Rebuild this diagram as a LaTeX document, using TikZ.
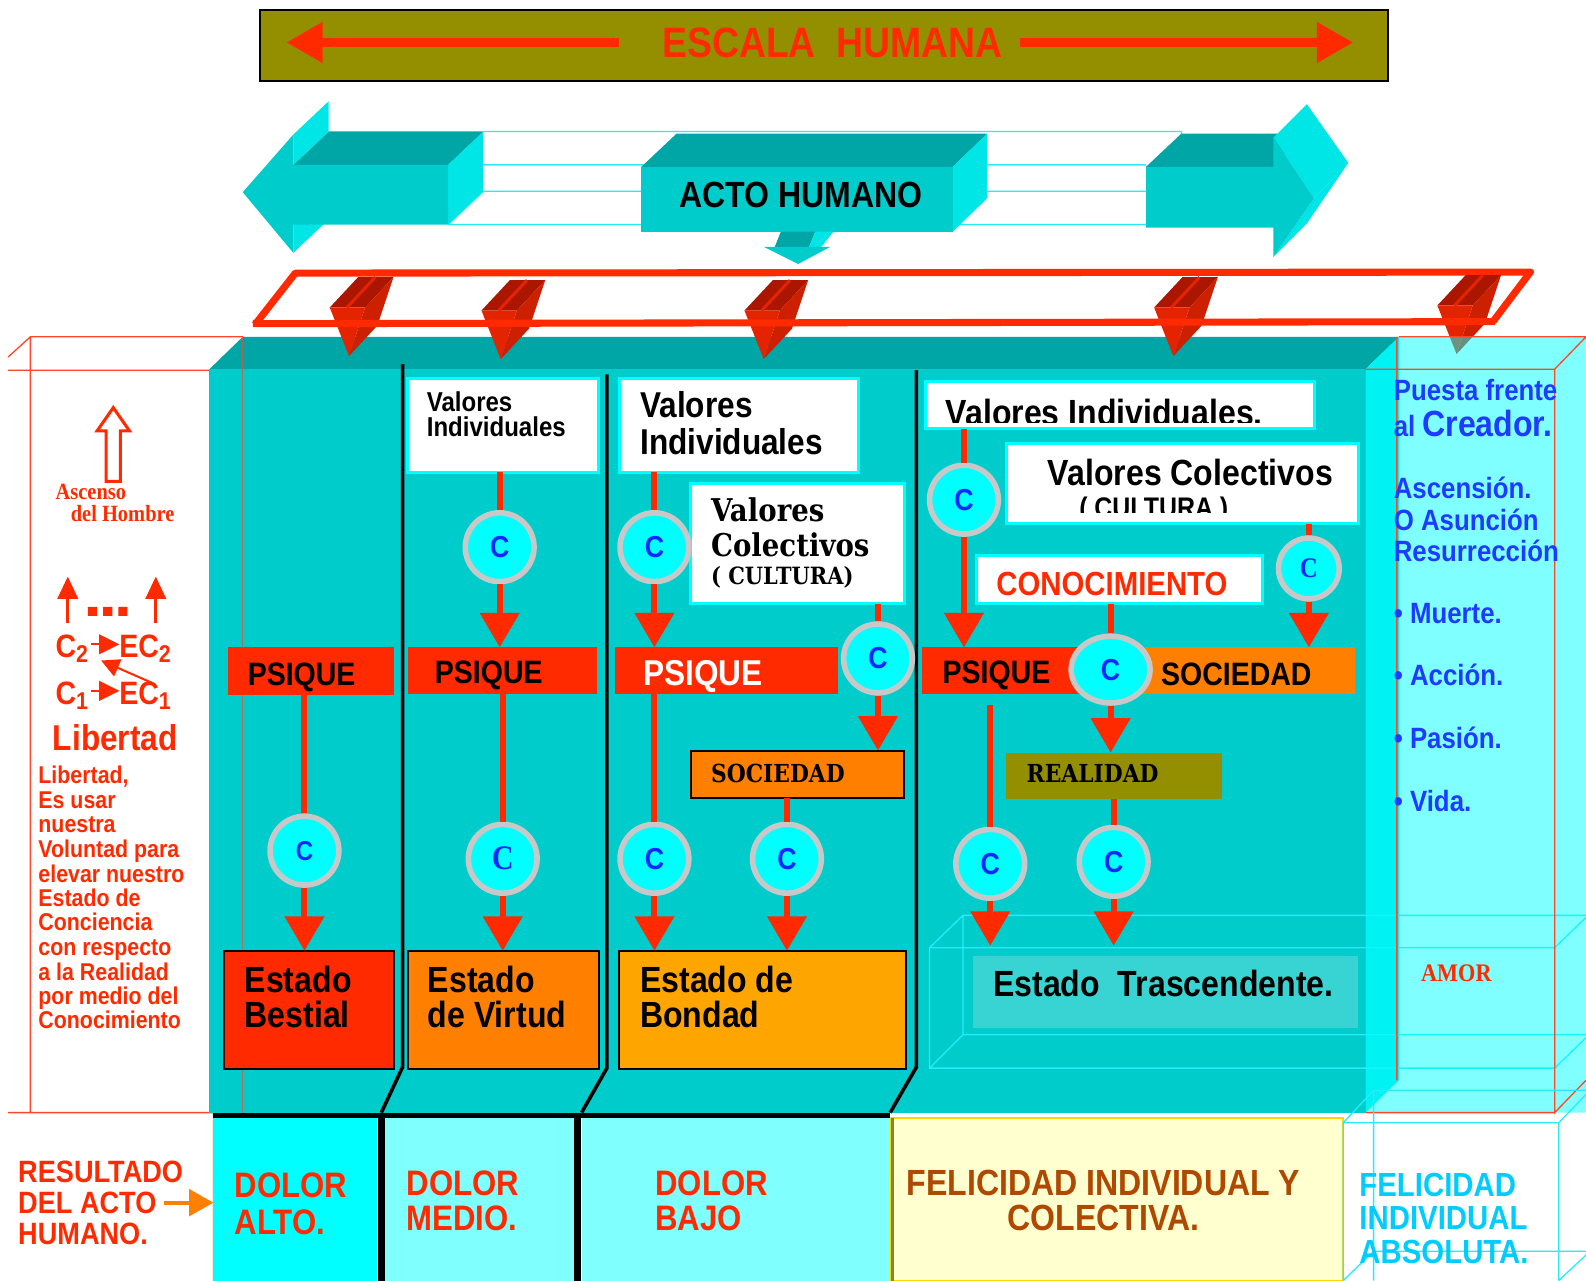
\documentclass[tikz,border=0pt]{standalone}
\usepackage{fontspec}
\setmainfont{Liberation Sans}[FakeStretch=0.88]
\newfontfamily\dvs{DejaVu Serif}[FakeStretch=0.88]
\newfontfamily\tms{Liberation Serif}[FakeStretch=0.88]
\usetikzlibrary{arrows.meta,shapes.geometric}
\newcommand\fsz[1]{\fontsize{#1}{#1}\selectfont}
\definecolor{tealf}{RGB}{0,204,204}
\definecolor{tealdk}{RGB}{0,165,165}
\definecolor{tealbr}{RGB}{0,229,229}
\definecolor{cyanf}{RGB}{0,255,255}
\definecolor{cyanlt}{RGB}{128,255,255}
\definecolor{redc}{RGB}{255,42,0}
\definecolor{orangec}{RGB}{255,127,0}
\definecolor{goldc}{RGB}{255,165,0}
\definecolor{olivec}{RGB}{148,143,0}
\definecolor{cblue}{RGB}{15,40,255}
\definecolor{pblue}{RGB}{30,60,255}
\definecolor{ringg}{RGB}{200,200,200}
\definecolor{brownc}{RGB}{176,72,0}
\definecolor{felyel}{RGB}{255,255,208}
\definecolor{felbd}{RGB}{255,215,0}
\definecolor{felcy}{RGB}{0,204,255}
\definecolor{wirec}{RGB}{40,235,250}
\definecolor{redw}{RGB}{255,70,40}
\definecolor{trascf}{RGB}{56,212,212}
\definecolor{ardk}{RGB}{170,22,0}
\definecolor{armd}{RGB}{205,32,0}
\definecolor{arft}{RGB}{228,36,0}
\definecolor{arrorange}{RGB}{255,128,0}
\definecolor{olivedk}{RGB}{128,128,64}
\tikzset{
 bx/.style={rectangle, anchor=north west, inner sep=0pt, outer sep=0pt},
 wbox/.style={bx, fill=white, draw=cyanf, line width=3pt},
 ln/.style={draw=redc, line width=6pt},
 arr/.style={draw=redc, line width=6pt, -{Triangle[width=38pt,length=34pt]}},
 cc/.style={circle, draw=ringg, line width=5.5pt, fill=cyanf, minimum size=68pt, inner sep=0pt, text=cblue, font=\fsz{30}\bfseries},
 ccs/.style={cc, font=\tms\fsz{34}\bfseries},
 tx/.style={anchor=base west, inner sep=0pt, outer sep=0pt},
 txc/.style={anchor=base, inner sep=0pt, outer sep=0pt},
 wire/.style={draw=wirec, line width=1.3pt},
 rwire/.style={draw=redw, line width=1.3pt},
 bigt/.style={font=\fsz{36}\bfseries},
 dolt/.style={text=redc, font=\fsz{35}\bfseries},
 psq/.style={font=\fsz{32}\bfseries},
 ptxt/.style={text=pblue, font=\fsz{29}\bfseries},
 ltxt/.style={text=redc, font=\fsz{24}\bfseries},
 ftxt/.style={text=redc, font=\fsz{32}\bfseries},
}
\newcommand\bxx[6]{\node[bx,#6,minimum width=#4-#2,minimum height=#5-#3] (#1) at (#2,#3) {};}
\newcommand\txtat[5]{\node[tx,#4] (#1) at (#2,#3) {#5};}
\newcommand\subn[1]{{\fsz{24}\raisebox{-5pt}{#1}}}
\newcommand\redarr[2]{%
 \fill[ardk] (#1-19,#2-48)--(#1+16,#2-48)--(#1+44,#2-78)--(#1+9,#2-78)--cycle;
 \fill[armd] (#1+16,#2-48)--(#1,#2)--(#1+28,#2-30)--(#1+44,#2-78)--cycle;
 \fill[arft] (#1-19,#2-48)--(#1+16,#2-48)--(#1,#2)--cycle;
 \draw[arft,line width=3pt] (#1-2,#2-48)--(#1+26,#2-78);
}
\begin{document}
\begin{tikzpicture}[x=1pt,y=-1pt]
\useasboundingbox (0,0) rectangle (1568,1266);
% ---------- banner
\bxx{banner}{257}{10}{1372}{80}{fill=olivec,draw=black,line width=2pt}
\node[txc,text=redc,font=\fsz{42}\bfseries] (escala) at (823,57) {ESCALA\ \ HUMANA};
\coordinate (bl1) at (612,42); \coordinate (bl2) at (283,42);
\coordinate (br1) at (1008,42); \coordinate (br2) at (1338,42);
\draw[redc,line width=9pt,-{Triangle[width=38pt,length=36pt]}] (bl1) -- (bl2);
\draw[redc,line width=9pt,-{Triangle[width=38pt,length=36pt]}] (br1) -- (br2);
% ---------- ACTO HUMANO double arrow
\draw[wire] (443,163)--(1133,163) (443,222)--(1133,222) (478,130)--(1168,130) (478,189)--(1168,189) (1168,130)--(1168,189) (1133,222)--(1168,189) (443,222)--(478,189);
\fill[tealdk] (290,163)--(443,163)--(478,130)--(325,130)--cycle;
\fill[tealbr] (443,163)--(478,130)--(478,189)--(443,222)--cycle;
\fill[tealbr] (290,133)--(325,100)--(325,130)--(290,163)--cycle;
\fill[tealbr] (290,222)--(325,189)--(325,217)--(290,250)--cycle;
\fill[tealf] (240,190)--(290,133)--(290,163)--(443,163)--(443,222)--(290,222)--(290,250)--cycle;
\fill[tealdk] (1133,165)--(1259,165)--(1292,132)--(1168,132)--cycle;
\fill[tealbr] (1259,136)--(1299,196)--(1333,161)--(1292,103)--cycle;
\fill[tealbr] (1299,196)--(1259,254)--(1292,221)--(1333,161)--cycle;
\fill[tealf] (1133,165)--(1259,165)--(1259,136)--(1299,196)--(1259,254)--(1259,225)--(1133,225)--cycle;
\fill[tealdk] (634,165)--(669,132)--(976,132)--(942,165)--cycle;
\fill[tealbr] (942,165)--(976,132)--(976,196)--(942,229)--cycle;
\bxx{acto}{634}{165}{942}{229}{fill=tealf}
\node[txc,font=\fsz{36}\bfseries] (actot) at (792,205) {ACTO HUMANO};
\fill[tealdk] (772,229)--(806,229)--(800,244)--(766,244)--cycle;
\fill[tealbr] (806,229)--(824,229)--(812,244)--(800,244)--cycle;
\fill[tealf] (755,244)--(821,244)--(789,261)--cycle;
% ---------- left panel wire
\draw[rwire] (8,353)--(30,333)--(240,333) (8,366)--(207,366) (30,333)--(30,1100) (8,1100)--(211,1100)--(211,1266);
% ---------- teal block
\fill[tealdk] (207,365)--(240,333)--(1383,333)--(1350,365)--cycle;
\fill[tealbr] (1350,365)--(1383,333)--(1383,1068)--(1350,1100)--cycle;
\bxx{block}{207}{365}{1350}{1100}{fill=tealf}
\draw[redw,line width=1pt,opacity=.7] (240,333)--(240,1100);
% trascendente wire box
\draw[wire] (919,937) rectangle (1537,1056) (952,905)--(1568,905) (952,905)--(952,1023)--(1568,1023) (919,937)--(952,905) (919,1056)--(952,1023) (1537,937)--(1568,907) (1537,1056)--(1568,1026);
% ---------- red frame and arrows
\draw[redc,line width=7pt,line join=round] (252,321)--(292,270)--(1513,269)--(1476,318);
\redarr{345}{352}
\redarr{495}{355}
\redarr{755}{355}
\redarr{1160}{352}
\redarr{1440}{350}
\draw[redc,line width=7pt] (250,320)--(1478,318);
% ---------- dividers
\draw[line width=3.5pt] (398,360)--(398,1055)--(377,1100);
\draw[line width=3.5pt] (600,370)--(600,1056)--(575,1100);
\draw[line width=3.5pt] (906,366)--(906,1055)--(880,1100);
% ---------- column 1
\bxx{psique1}{225}{640}{390}{687}{fill=redc}
\txtat{tp1}{245}{678}{psq}{PSIQUE}
\bxx{bestial}{221}{940}{390}{1057}{fill=redc,draw=black,line width=2pt}
\txtat{tb1}{242}{981}{bigt}{Estado}
\txtat{tb2}{242}{1016}{bigt}{Bestial}
\node[cc,font=\fsz{27}\bfseries] (c1) at (301,841) {C};
\draw[ln] (psique1.south -| c1) -- (c1);
\draw[arr] (c1) -- (c1 |- bestial.north);
% ---------- column 2
\bxx{vi2}{403}{374}{592}{467}{wbox}
\txtat{tv2a}{422}{407}{font=\fsz{27}\bfseries}{Valores}
\txtat{tv2b}{422}{432}{font=\fsz{27}\bfseries}{Individuales}
\node[cc] (c2a) at (494,541) {C};
\bxx{psique2}{403}{640}{590}{686}{fill=redc}
\txtat{tp2}{430}{676}{psq}{PSIQUE}
\node[ccs] (c2b) at (497,849) {C};
\bxx{virtud}{403}{940}{592}{1057}{fill=orangec,draw=black,line width=2pt}
\txtat{tvi1}{423}{981}{bigt}{Estado}
\txtat{tvi2}{423}{1016}{bigt}{de Virtud}
\draw[ln] (vi2.south -| c2a) -- (c2a);
\draw[arr] (c2a) -- (c2a |- psique2.north);
\draw[ln] (psique2.south -| c2b) -- (c2b);
\draw[arr] (c2b) -- (c2b |- virtud.north);
% ---------- column 3
\bxx{vi3}{612}{374}{849}{467}{wbox}
\txtat{tv3a}{633}{413}{font=\fsz{35.5}\bfseries}{Valores}
\txtat{tv3b}{633}{449}{font=\fsz{35.5}\bfseries}{Individuales}
\bxx{vc3}{683}{478}{894}{597}{wbox}
\txtat{tc3a}{703}{516}{font=\dvs\fsz{31}\bfseries}{Valores}
\txtat{tc3b}{703}{550}{font=\dvs\fsz{31}\bfseries}{Colectivos}
\txtat{tc3c}{703}{578}{font=\dvs\fsz{23.5}\bfseries}{( CULTURA)}
\node[cc] (c3a) at (647,541) {C};
\bxx{psique3}{608}{640}{828}{686}{fill=redc}
\txtat{tp3}{636}{678}{font=\fsz{35.5}\bfseries,text=white}{PSIQUE}
\node[cc] (c3b) at (868,651) {C};
\bxx{soc3}{683}{742}{894}{789}{fill=orangec,draw=black,line width=2pt}
\txtat{ts3}{703}{774}{font=\dvs\fsz{24.5}\bfseries}{SOCIEDAD}
\node[cc] (c3c) at (647,849) {C};
\node[cc] (c3d) at (778,849) {C};
\bxx{bondad}{612}{940}{896}{1057}{fill=goldc,draw=black,line width=2pt}
\txtat{tbo1}{633}{981}{bigt}{Estado de}
\txtat{tbo2}{633}{1016}{bigt}{Bondad}
\draw[ln] (vi3.south -| c3a) -- (c3a);
\draw[arr] (c3a) -- (c3a |- psique3.north);
\draw[ln] (vc3.south -| c3b) -- (c3b);
\draw[arr] (c3b) -- (c3b |- soc3.north);
\draw[ln] (psique3.south -| c3c) -- (c3c);
\draw[arr] (c3c) -- (c3c |- bondad.north);
\draw[ln] (soc3.south -| c3d) -- (c3d);
\draw[arr] (c3d) -- (c3d |- bondad.north);
% ---------- column 4
\bxx{vi4}{915}{377}{1300}{424}{wbox}
\begin{scope}
\clip (917,379) rectangle (1298,418);
\txtat{tv4}{935}{421}{bigt}{Valores Individuales.}
\end{scope}
\bxx{vc4}{995}{438}{1343}{518}{wbox}
\txtat{tc4a}{1036}{480}{bigt}{Valores Colectivos}
\begin{scope}
\clip (997,440) rectangle (1341,507);
\txtat{tc4b}{1067}{512}{font=\fsz{28}\bfseries}{( CULTURA )}
\end{scope}
\bxx{conoc}{965}{549}{1248}{597}{wbox}
\txtat{tk}{985}{589}{text=redc,font=\fsz{33}\bfseries}{CONOCIMIENTO}
\node[cc] (c4a) at (953,494) {C};
\node[ccs,minimum size=60pt,font=\tms\fsz{28}\bfseries] (c4b) at (1294,562) {C};
\bxx{psique4}{912}{640}{1100}{686}{fill=redc}
\bxx{soc4}{1100}{640}{1340}{686}{fill=orangec}
\txtat{tp4}{932}{676}{psq}{PSIQUE}
\txtat{ts4}{1148}{678}{psq}{SOCIEDAD}
\node[cc,ellipse,minimum width=78pt,minimum height=66pt] (c4c) at (1098,662) {C};
\bxx{real}{995}{744}{1208}{790}{fill=olivec}
\txtat{tr}{1015}{774}{font=\dvs\fsz{24.5}\bfseries}{REALIDAD}
\node[cc] (c4d) at (979,854) {C};
\node[cc] (c4e) at (1101,852) {C};
\bxx{trasc}{962}{945}{1343}{1016}{fill=trascf}
\txtat{tt}{982}{985}{font=\fsz{36}\bfseries}{Estado\ \ Trascendente.}
\draw[ln] (vi4.south -| c4a) -- (c4a);
\draw[arr] (c4a) -- (c4a |- psique4.north);
\draw[ln] (vc4.south -| c4b) -- (c4b);
\draw[arr] (c4b) -- (c4b |- soc4.north);
\draw[ln] (conoc.south -| c4c) -- (c4c);
\draw[arr] (c4c) -- (c4c |- real.north);
\draw[ln] ([yshift=-11pt]psique4.south -| c4d) -- (c4d);
\draw[arr,shorten >=10pt] (c4d) -- (c4d |- trasc.north);
\draw[ln] (real.south -| c4e) -- (c4e);
\draw[arr,shorten >=10pt] (c4e) -- (c4e |- trasc.north);
% ---------- right panel
\fill[cyanf,opacity=.5] (1350,365)--(1383,333)--(1568,333)--(1568,1100)--(1350,1100)--cycle;
\draw[rwire] (1383,333)--(1568,333) (1350,365)--(1537,365)--(1568,333) (1537,365)--(1537,1100)--(1568,1068) (1350,1100)--(1537,1100) (1381,333)--(1381,1068);
\txtat{rp1}{1378}{396}{ptxt}{Puesta frente}
\txtat{rp2}{1378}{432}{ptxt}{al \fsz{36}Creador.}
\txtat{rp3}{1378}{493}{ptxt}{Ascensión.}
\txtat{rp4}{1378}{524}{ptxt}{O Asunción}
\txtat{rp5}{1378}{555}{ptxt}{Resurrección}
\txtat{rp6}{1378}{616}{ptxt}{•\ Muerte.}
\txtat{rp7}{1378}{678}{ptxt}{•\ Acción.}
\txtat{rp8}{1378}{740}{ptxt}{•\ Pasión.}
\txtat{rp9}{1378}{802}{ptxt}{•\ Vida.}
\txtat{amor}{1405}{970}{text=redc,font=\tms\fsz{25}\bfseries}{AMOR}
% ---------- left panel content
\draw[redc,line width=3pt,fill=white] (105,476)--(105,426)--(96,426)--(112,403)--(128,426)--(119,426)--(119,476)--cycle;
\txtat{asc1}{55}{494}{text=redc,font=\tms\fsz{23}\bfseries}{Ascenso}
\txtat{asc2}{70}{516}{text=redc,font=\tms\fsz{23}\bfseries}{del Hombre}
\draw[redc,line width=3pt,-{Triangle[width=20pt,length=22pt]}] (67,616)--(67,570);
\draw[redc,line width=3pt,-{Triangle[width=20pt,length=22pt]}] (154,616)--(154,570);
\fill[redc] (87,600) rectangle (96,609) (102,600) rectangle (111,609) (117,600) rectangle (126,609);
\txtat{f1}{55}{650}{ftxt}{C\subn{2}}
\txtat{f2}{118}{650}{ftxt}{EC\subn{2}}
\txtat{f3}{55}{696}{ftxt}{C\subn{1}}
\txtat{f4}{118}{696}{ftxt}{EC\subn{1}}
\draw[redc,line width=2pt] (90,637)--(100,637) (90,683)--(100,683);
\fill[redc] (98,627)--(118,637)--(98,647)--cycle (98,673)--(118,683)--(98,693)--cycle;
\draw[redc,line width=2pt,-{Triangle[width=18pt,length=18pt]}] (150,675)--(100,653);
\node[txc,text=redc,font=\fsz{35.5}\bfseries] (lib) at (114,742) {Libertad};
\txtat{l1}{38}{775}{ltxt}{Libertad,}
\txtat{l2}{38}{799}{ltxt}{Es usar}
\txtat{l3}{38}{823}{ltxt}{nuestra}
\txtat{l4}{38}{848}{ltxt}{Voluntad para}
\txtat{l5}{38}{872}{ltxt}{elevar nuestro}
\txtat{l6}{38}{896}{ltxt}{Estado de}
\txtat{l7}{38}{920}{ltxt}{Conciencia}
\txtat{l8}{38}{945}{ltxt}{con respecto}
\txtat{l9}{38}{969}{ltxt}{a la Realidad}
\txtat{l10}{38}{993}{ltxt}{por medio del}
\txtat{l11}{38}{1017}{ltxt}{Conocimiento}
% ---------- bottom row
\bxx{dalto}{211}{1105}{373}{1266}{fill=cyanf}
\bxx{dmedio}{381}{1105}{567}{1266}{fill=cyanlt}
\bxx{dbajo}{575}{1105}{880}{1266}{fill=cyanlt}
\bxx{feli}{881}{1105}{1328}{1266}{fill=felyel,draw=felbd,line width=2pt}
\draw[olivedk,line width=3pt] (882,1105)--(882,1266);
\draw[line width=5pt] (211,1103)--(880,1103);
\draw[line width=7pt] (377,1103)--(377,1266) (571,1103)--(571,1266);
\draw[wire] (1328,1266)--(1328,1110)--(1541,1110)--(1541,1266) (1358,1078)--(1358,1266) (1358,1237)--(1568,1237) (1358,1078)--(1568,1078) (1328,1110)--(1358,1078) (1541,1110)--(1572,1078) (1328,1266)--(1358,1237) (1541,1266)--(1570,1239);
\txtat{d1}{232}{1184}{dolt}{DOLOR}
\txtat{d2}{232}{1220}{dolt}{ALTO.}
\txtat{d3}{402}{1182}{dolt}{DOLOR}
\txtat{d4}{402}{1217}{dolt}{MEDIO.}
\txtat{d5}{648}{1182}{dolt}{DOLOR}
\txtat{d6}{648}{1217}{dolt}{BAJO}
\node[txc,text=brownc,font=\fsz{36}\bfseries] (fe1) at (1091,1182) {FELICIDAD INDIVIDUAL Y};
\node[txc,text=brownc,font=\fsz{36}\bfseries] (fe2) at (1091,1217) {COLECTIVA.};
\txtat{fa1}{1344}{1183}{text=felcy,font=\fsz{33}\bfseries}{FELICIDAD}
\txtat{fa2}{1344}{1216}{text=felcy,font=\fsz{33}\bfseries}{INDIVIDUAL}
\txtat{fa3}{1344}{1249}{text=felcy,font=\fsz{33}\bfseries}{ABSOLUTA.}
\txtat{rs1}{18}{1169}{text=redc,font=\fsz{30.5}\bfseries}{RESULTADO}
\txtat{rs2}{18}{1200}{text=redc,font=\fsz{30.5}\bfseries}{DEL ACTO}
\txtat{rs3}{18}{1230}{text=redc,font=\fsz{30.5}\bfseries}{HUMANO.}
\coordinate (ra) at (162,1189);
\draw[arrorange,line width=4pt,-{Triangle[width=26pt,length=24pt]}] (ra) -- (dalto.west |- ra);
\end{tikzpicture}
\end{document}
